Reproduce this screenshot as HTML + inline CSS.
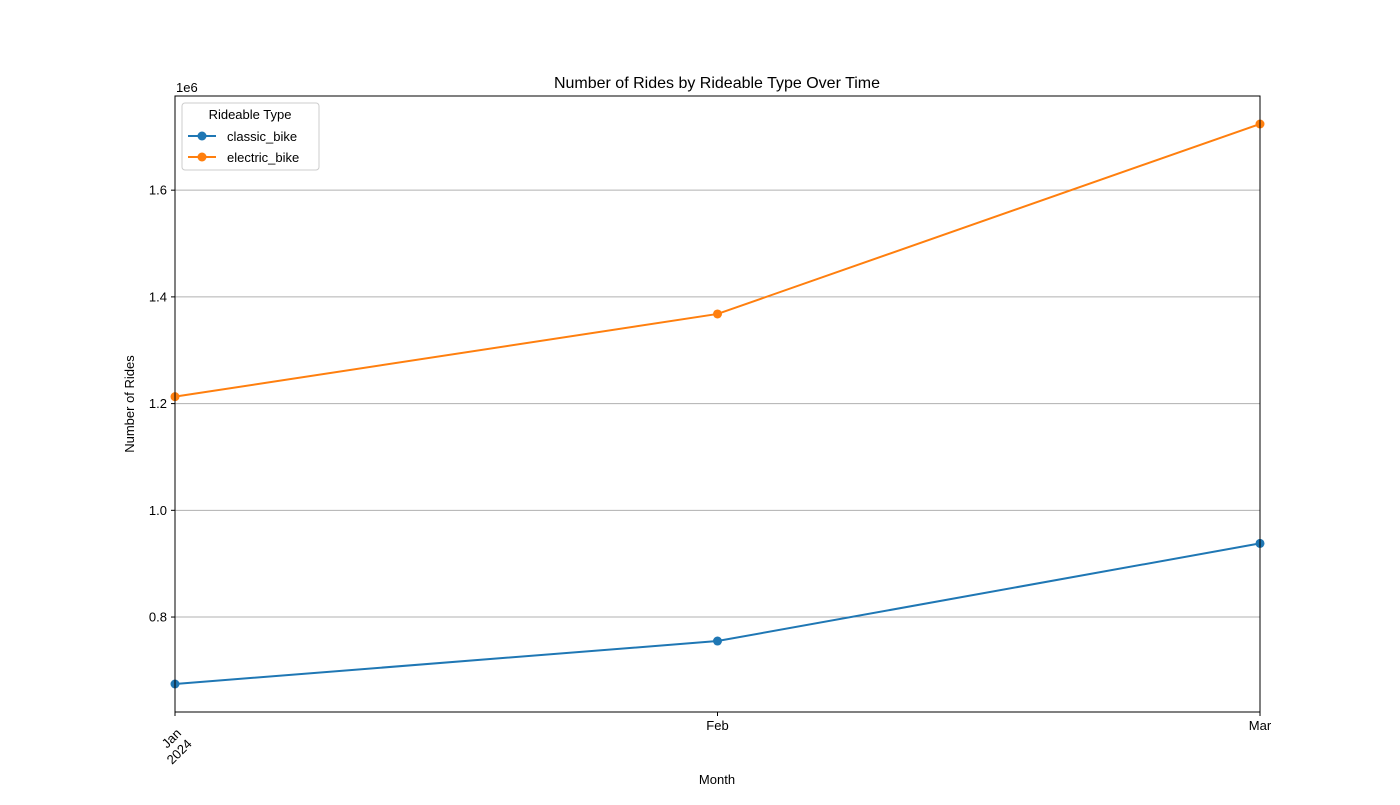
<!DOCTYPE html>
<html><head><meta charset="utf-8"><style>
body{margin:0;background:#fff;}
svg{font-family:"Liberation Sans","DejaVu Sans",sans-serif;}
</style></head><body>
<svg id="chart" width="1400" height="800" xmlns="http://www.w3.org/2000/svg">
<rect width="1400" height="800" fill="#fff"/>
<g id="grid"></g>
<g id="series"></g>
<rect x="175" y="96" width="1085" height="616" fill="none" stroke="#000" stroke-width="1"/>
<g id="axes"></g>
<text x="717" y="88" font-size="16" text-anchor="middle">Number of Rides by Rideable Type Over Time</text>
<text transform="translate(134,404) rotate(-90)" font-size="13" text-anchor="middle">Number of Rides</text>
<text x="717" y="784" font-size="13" text-anchor="middle">Month</text>
<text x="176" y="92" font-size="13">1e6</text>
<g>
<rect x="182" y="103" width="137" height="67" rx="3" fill="#fff" fill-opacity="0.8" stroke="#ccc"/>
<text x="250" y="119" font-size="13" text-anchor="middle">Rideable Type</text>
<g><line x1="188" y1="136" x2="216" y2="136" stroke="#1f77b4" stroke-width="2"/><circle cx="202" cy="136" r="4.5" fill="#1f77b4"/><text x="227" y="141" font-size="13">classic_bike</text></g>
<g><line x1="188" y1="157" x2="216" y2="157" stroke="#ff7f0e" stroke-width="2"/><circle cx="202" cy="157" r="4.5" fill="#ff7f0e"/><text x="227" y="162" font-size="13">electric_bike</text></g>
</g>
</svg>
<script>
const categories = ["Jan", "Feb", "Mar"];
const classicBike = [0.6745, 0.755, 0.938];
const electricBike = [1.213, 1.368, 1.724];
const yTicks = [0.8, 1.0, 1.2, 1.4, 1.6];
const yTickLabels = ["0.8", "1.0", "1.2", "1.4", "1.6"];

const NS = "http://www.w3.org/2000/svg";
const L = 175, R = 1260, T = 96, B = 712;
const all = classicBike.concat(electricBike);
const mn = Math.min(...all), mx = Math.max(...all), pad = (mx - mn) * 0.05;
const y0 = mn - pad, y1 = mx + pad;
const xs = i => L + (R - L) * i / (categories.length - 1);
const ys = v => B - (v - y0) / (y1 - y0) * (B - T);
function mk(tag, attrs, parent) { const e = document.createElementNS(NS, tag); for (const k in attrs) e.setAttribute(k, attrs[k]); parent.appendChild(e); return e; }
const grid = document.getElementById('grid'), axes = document.getElementById('axes'), ser = document.getElementById('series');
yTicks.forEach((v, i) => {
  const y = ys(v);
  const g = mk('line', {x1: L, x2: R, y1: y, y2: y, stroke: '#b0b0b0', 'stroke-width': 1}, grid);
  
  
  mk('line', {x1: L - 4, x2: L, y1: y, y2: y, stroke: '#000'}, axes);
  const t = mk('text', {x: L - 8, y: y + 4.5, 'font-size': 13, 'text-anchor': 'end'}, axes);
  t.textContent = yTickLabels[i];
  
  
});
categories.forEach((c, i) => {
  const x = xs(i);
  mk('line', {x1: x, x2: x, y1: B, y2: B + 4, stroke: '#000'}, axes);
  if (i === 0) {
    const t = mk('text', {transform: `translate(${x + 7},${B + 22}) rotate(-45)`, 'font-size': 13, 'text-anchor': 'end'}, axes);
    
    
    const a = mk('tspan', {x: 0, dy: 0}, t); a.textContent = c;
    const b = mk('tspan', {x: 0, dy: 15}, t); b.textContent = "2024";
  } else {
    const t = mk('text', {x: x, y: B + 18, 'font-size': 13, 'text-anchor': 'middle'}, axes);
    t.textContent = c;
    
    
  }
});
function drawSeries(vals, color, name) {
  const p = mk('polyline', {points: vals.map((v, i) => xs(i) + ',' + ys(v)).join(' '), fill: 'none', stroke: color, 'stroke-width': 2}, ser);
  
  
  vals.forEach((v, i) => {
    const c = mk('circle', {cx: xs(i), cy: ys(v), r: 4.5, fill: color}, ser);
    
    
  });
}
drawSeries(classicBike, '#1f77b4', 'classic-bike');
drawSeries(electricBike, '#ff7f0e', 'electric-bike');
</script>
</body></html>
